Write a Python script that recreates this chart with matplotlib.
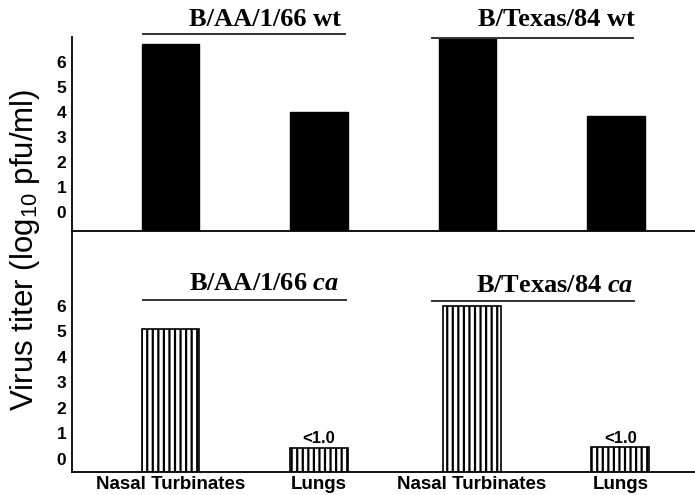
import matplotlib
matplotlib.use("Agg")
import matplotlib.pyplot as plt
from matplotlib.lines import Line2D

# ---- data ----
sites = ["Nasal Turbinates", "Lungs", "Nasal Turbinates", "Lungs"]
wt_titles = ["B/AA/1/66 wt", "B/Texas/84 wt"]
ca_strains = ["B/AA/1/66", "B/Texas/84"]
wt_values = [6.7, 4.0, 6.9, 3.85]
ca_values = [5.1, 0.45, 6.0, 0.47]
ca_labels = ["", "<1.0", "", "<1.0"]
yticks = [0, 1, 2, 3, 4, 5, 6]

W, H = 695, 495
plt.rcParams['font.family'] = ['Liberation Sans', 'DejaVu Sans']
plt.rcParams['hatch.linewidth'] = 1.6
plt.rcParams['mathtext.fontset'] = 'custom'
plt.rcParams['mathtext.it'] = 'Liberation Serif:italic:bold'
plt.rcParams['mathtext.rm'] = 'Liberation Sans'
fig = plt.figure(figsize=(W / 100, H / 100), dpi=100)

def fx(px):
    return px / W

def fy(py):
    return 1 - py / H

left, right = 72, 695
ax_top = fig.add_axes([fx(left), fy(231), fx(right - left), fy(37) - fy(231)])
ax_bot = fig.add_axes([fx(left), fy(472), fx(right - left), fy(231) - fy(472)])

pos_top = [0, 1, 2, 3]
pos_bot = [0, 1, 2.03, 3.03]
xl = (-0.663, 3.532)
bw = 0.39
top_base = -0.76
bot_base = -0.51

ax_top.bar(pos_top, [v - top_base for v in wt_values], width=bw, bottom=top_base,
           color="black", edgecolor="black")
ax_top.set_ylim(top_base, 7.0)
ax_bot.bar(pos_bot, [v - bot_base for v in ca_values], width=bw, bottom=bot_base,
           color="white", edgecolor="black", hatch="|||", linewidth=1.2)
ax_bot.set_ylim(bot_base, 8.94)

for ax in (ax_top, ax_bot):
    ax.set_xlim(*xl)
    ax.set_yticks(yticks)
    ax.set_yticklabels([str(t) for t in yticks], fontsize=12.5, fontweight="bold")
    ax.tick_params(axis="y", length=0, pad=4)
    ax.spines["top"].set_visible(False)
    ax.spines["right"].set_visible(False)
    ax.spines["left"].set_linewidth(1.3)
    ax.spines["bottom"].set_linewidth(1.3)
    ax.set_xticks([])
    ax.patch.set_alpha(0)

ax_bot.set_xticks(pos_bot)
ax_bot.set_xticklabels(sites, fontsize=13.5, fontweight="bold")
ax_bot.tick_params(axis="x", length=0, pad=3)

for p, lab, v in zip(pos_bot, ca_labels, ca_values):
    if lab:
        ax_bot.text(p, v + 0.05, lab, ha="center", va="bottom", fontsize=12, fontweight="bold")

# titles with underlines
serif = ['Liberation Serif', 'DejaVu Serif']
title_specs = [
    (265, 20, 143, 345, 34),
    (556, 20, 432, 633, 38),
]
for (cx, cy, x0, x1, ly), t in zip(title_specs, wt_titles):
    fig.text(fx(cx), fy(cy), t, ha="center", va="center", fontsize=19,
             fontweight="bold", family=serif)
    fig.add_artist(Line2D([fx(x0), fx(x1)], [fy(ly), fy(ly)], color="#333333", lw=1.4))

ca_specs = [
    (264, 283, 143, 346, 300),
    (555, 285, 432, 634, 301),
]
for (cx, cy, x0, x1, ly), s in zip(ca_specs, ca_strains):
    fig.text(fx(cx), fy(cy), s + r" $\mathit{ca}$", ha="center", va="center",
             fontsize=19, fontweight="bold", family=serif)
    fig.add_artist(Line2D([fx(x0), fx(x1)], [fy(ly), fy(ly)], color="#333333", lw=1.4))

fig.text(fx(25), fy(250), r"Virus titer (log$_{10}$ pfu/ml)", rotation=90,
         ha="center", va="center", fontsize=22.5)

fig.savefig("out.png", dpi=100)
